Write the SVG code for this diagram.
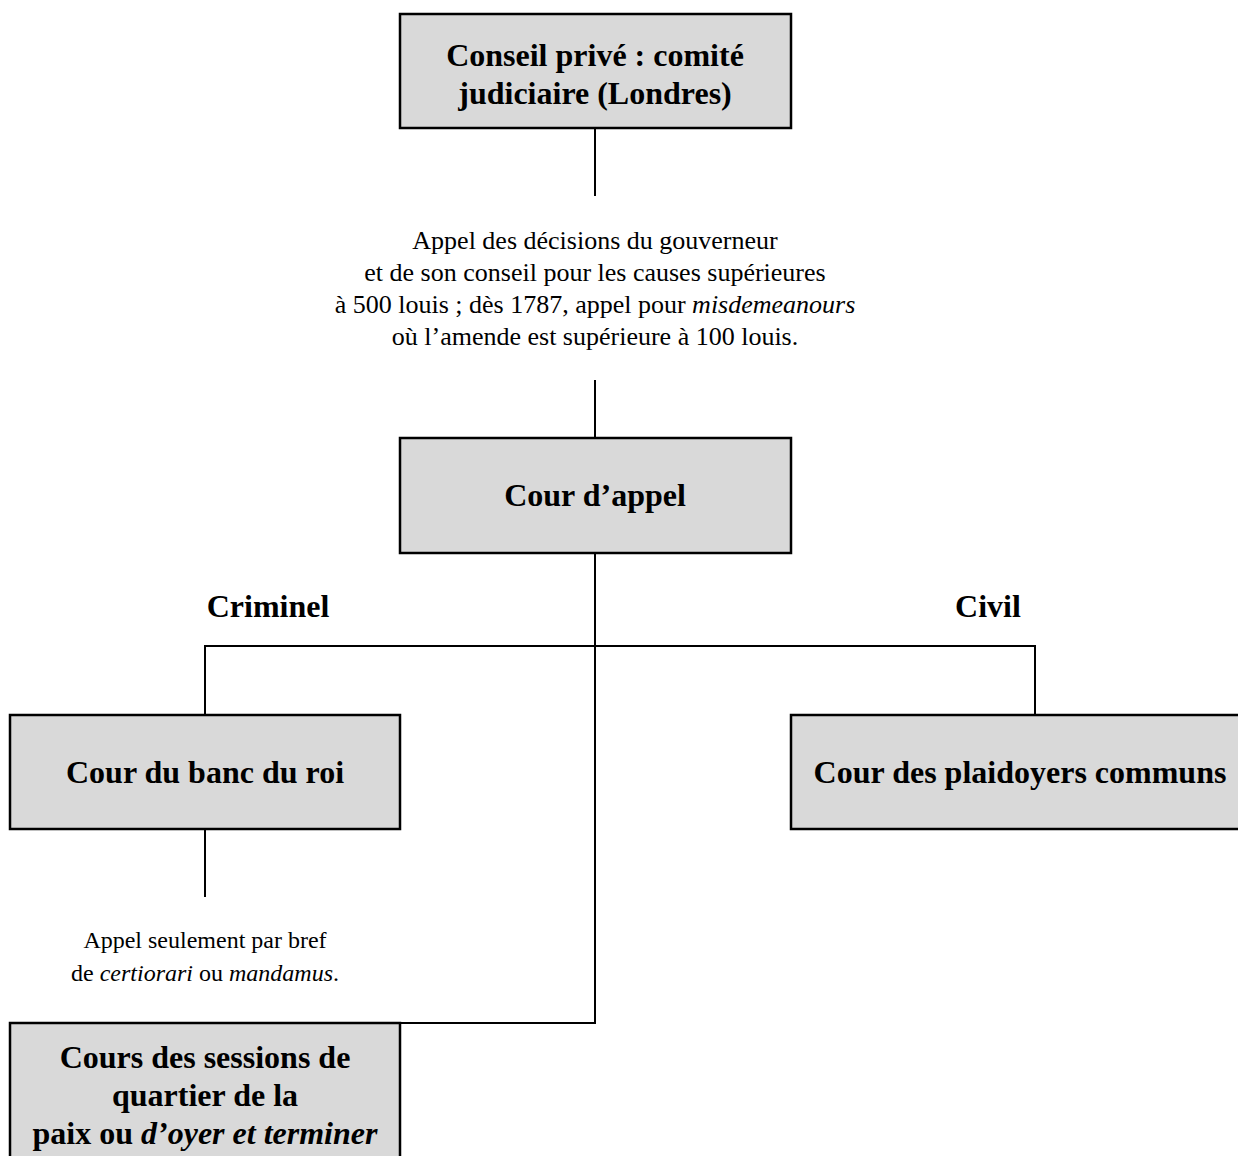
<svg xmlns="http://www.w3.org/2000/svg" width="1238" height="1156" viewBox="0 0 1238 1156">
  <style>
    .box { fill: #d9d9d9; stroke: #000; stroke-width: 2.5; }
    .wire { fill: none; stroke: #000; stroke-width: 2; }
    .title { font-family: "Liberation Serif", "Times New Roman", serif; font-weight: bold; font-size: 32px; text-anchor: middle; fill: #000; }
    .note { font-family: "Liberation Serif", "Times New Roman", serif; font-size: 24px; text-anchor: middle; fill: #000; }
    .note-lg { font-size: 26px; }
    .it { font-style: italic; }
  </style>
  <rect width="1238" height="1156" fill="#fff"/>

  <!-- connectors -->
  <g id="connectors">
    <path class="wire" d="M595 128 V196"/>
    <path class="wire" d="M595 380 V437"/>
    <path class="wire" d="M595 553 V1023 H400"/>
    <path class="wire" d="M205 715 V646 H1035 V715"/>
    <path class="wire" d="M205 829 V897"/>
  </g>

  <g id="conseil-prive">
    <rect class="box" x="400" y="14" width="391" height="114"/>
    <text class="title" x="595" y="66">Conseil privé : comité</text>
    <text class="title" x="595" y="104">judiciaire (Londres)</text>
  </g>

  <g id="appel-note">
    <text class="note note-lg" x="595" y="249">Appel des décisions du gouverneur</text>
    <text class="note note-lg" x="595" y="281">et de son conseil pour les causes supérieures</text>
    <text class="note note-lg" x="595" y="313">à 500 louis ; dès 1787, appel pour <tspan class="it">misdemeanours</tspan></text>
    <text class="note note-lg" x="595" y="345">où l’amende est supérieure à 100 louis.</text>
  </g>

  <g id="cour-appel">
    <rect class="box" x="400" y="438" width="391" height="115"/>
    <text class="title" x="595" y="506">Cour d’appel</text>
  </g>

  <g id="criminel">
    <text class="title" x="268" y="617">Criminel</text>
  </g>
  <g id="civil">
    <text class="title" x="988" y="617">Civil</text>
  </g>

  <g id="banc-du-roi">
    <rect class="box" x="10" y="715" width="390" height="114"/>
    <text class="title" x="205" y="783">Cour du banc du roi</text>
  </g>

  <g id="plaidoyers-communs">
    <rect class="box" x="791" y="715" width="460" height="114"/>
    <text class="title" x="1020" y="783">Cour des plaidoyers communs</text>
  </g>

  <g id="bref-note">
    <text class="note" x="205" y="948">Appel seulement par bref</text>
    <text class="note" x="205" y="981">de <tspan class="it">certiorari</tspan> ou <tspan class="it">mandamus</tspan>.</text>
  </g>

  <g id="sessions-quartier">
    <rect class="box" x="10" y="1023" width="390" height="150"/>
    <text class="title" x="205" y="1068">Cours des sessions de</text>
    <text class="title" x="205" y="1106">quartier de la</text>
    <text class="title" x="205" y="1144">paix ou <tspan class="it">d’oyer et terminer</tspan></text>
  </g>
</svg>
